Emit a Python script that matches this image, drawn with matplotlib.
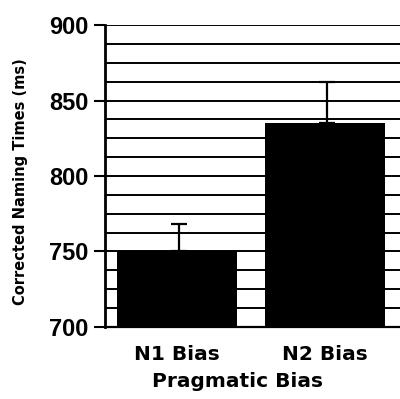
import matplotlib
matplotlib.use("Agg")
import matplotlib.pyplot as plt
import numpy as np

categories = ["N1 Bias", "N2 Bias"]
means = [750, 835]
err_upper = [18, 27]
yticks = [700, 750, 800, 850, 900]
grid_step = 12.5

fig = plt.figure(figsize=(4.0, 3.99), dpi=100)
ax = fig.add_axes([0.2625, 0.1805, 0.7375, 0.7568])

x = np.arange(len(categories))
ymin, ymax = 700, 900
for g in np.arange(ymin + grid_step, ymax + 0.01, grid_step):
    ax.axhline(g, color="black", lw=1.4, zorder=1)

ax.bar(x, np.array(means) - ymin, bottom=ymin, width=0.81, color="black", zorder=2)
ax.errorbar(x + 0.015, means, yerr=[[0, 0], err_upper], fmt="none", ecolor="black",
            elinewidth=1.6, capsize=5.5, capthick=1.6, zorder=3)

ax.set_xlim(-0.486, 1.507)
ax.set_ylim(ymin, ymax)
ax.set_yticks(yticks)
ax.set_yticklabels([str(v) for v in yticks], fontfamily="Liberation Sans",
                   fontweight="bold", fontsize=17)
ax.set_xticks(x)
ax.set_xticklabels(categories, fontfamily="DejaVu Sans", fontweight="bold", fontsize=14.5)
ax.tick_params(axis="y", direction="out", length=8, width=1.5, pad=4)
ax.tick_params(axis="x", length=0, pad=13)

for s in ["top", "right"]:
    ax.spines[s].set_visible(False)
ax.spines["left"].set_linewidth(2)
ax.spines["bottom"].set_linewidth(1.6)

ax.set_xlabel("Pragmatic Bias", fontfamily="DejaVu Sans", fontweight="bold",
              fontsize=14.5, labelpad=0)
ax.xaxis.set_label_coords(0.45, -0.148)
ax.set_ylabel("Corrected Naming Times (ms)", fontfamily="DejaVu Sans",
              fontweight="bold", fontsize=10.5)
ax.yaxis.set_label_coords(-0.262, 0.48)

fig.savefig("out.png", dpi=100)
